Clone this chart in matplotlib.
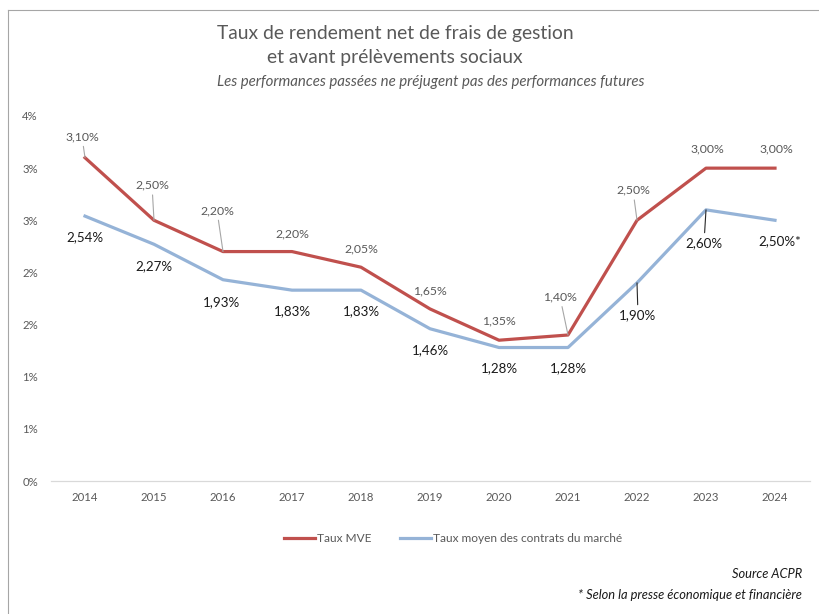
import matplotlib.pyplot as plt
from matplotlib.lines import Line2D

plt.rcParams['font.family'] = ['Lato', 'DejaVu Sans']

years = ["2014", "2015", "2016", "2017", "2018", "2019",
         "2020", "2021", "2022", "2023", "2024"]
taux_mve = [3.10, 2.50, 2.20, 2.20, 2.05, 1.65, 1.35, 1.40, 2.50, 3.00, 3.00]
taux_marche = [2.54, 2.27, 1.93, 1.83, 1.83, 1.46, 1.28, 1.28, 1.90, 2.60, 2.50]
labels_mve = ["3,10%", "2,50%", "2,20%", "2,20%", "2,05%", "1,65%",
              "1,35%", "1,40%", "2,50%", "3,00%", "3,00%"]
labels_marche = ["2,54%", "2,27%", "1,93%", "1,83%", "1,83%", "1,46%",
                 "1,28%", "1,28%", "1,90%", "2,60%", "2,50%*"]
yticks = [0, 0.5, 1.0, 1.5, 2.0, 2.5, 3.0, 3.5]
ytick_labels = ["0%", "1%", "1%", "2%", "2%", "3%", "3%", "4%"]

# label offsets in pixels (dx, dy down), and whether a leader line is drawn
off_mve = [(-3, -21), (-2, -35), (-6, -41), (0, -18), (0, -18), (0, -18),
           (0, -19), (-8, -38), (-4, -30), (1, -19), (1, -19)]
lead_mve = [1, 1, 1, 0, 0, 0, 0, 1, 1, 0, 0]
off_marche = [(0, 21), (0, 22), (-1, 22), (0, 21), (0, 21), (0, 21),
              (0, 21), (0, 21), (1, 32), (-2, 33), (5, 21)]
lead_marche = [0, 0, 0, 0, 0, 0, 0, 0, 1, 1, 0]

red = "#C0504D"
blue = "#95B3D7"
gray = "#595959"

fig = plt.figure(figsize=(8.2, 6.14), dpi=100)
ax = fig.add_axes([50.5 / 820, 1 - 481 / 614, 759 / 820, 365 / 614])

x = list(range(len(years)))
ax.plot(x, taux_mve, color=red, lw=2.3, solid_joinstyle="round", label="Taux MVE")
ax.plot(x, taux_marche, color=blue, lw=2.3, solid_joinstyle="round",
        label="Taux moyen des contrats du marché")

k = 0.72  # px -> points
for i in x:
    dx, dy = off_mve[i]
    ap = dict(arrowstyle="-", color="#A6A6A6", lw=0.8, shrinkA=1, shrinkB=0) if lead_mve[i] else None
    ax.annotate(labels_mve[i], (i, taux_mve[i]), xytext=(dx * k, -dy * k),
                textcoords="offset points", ha="center", va="center",
                fontsize=8.8, color=gray, arrowprops=ap)
    dx, dy = off_marche[i]
    ap = dict(arrowstyle="-", color="#262626", lw=0.8, shrinkA=1, shrinkB=0) if lead_marche[i] else None
    ax.annotate(labels_marche[i], (i, taux_marche[i]), xytext=(dx * k, -dy * k),
                textcoords="offset points", ha="center", va="center",
                fontsize=9.6, color="#1a1a1a", arrowprops=ap)

ax.set_xlim(-0.5, len(years) - 0.5)
ax.set_ylim(0, 3.5)
ax.set_xticks(x)
ax.set_xticklabels(years)
ax.set_yticks(yticks)
ax.set_yticklabels(ytick_labels)
ax.tick_params(axis="both", length=0, labelsize=8.2, labelcolor=gray)
ax.tick_params(axis="x", pad=8)
ax.tick_params(axis="y", pad=9)
for s in ["top", "right", "left"]:
    ax.spines[s].set_visible(False)
ax.spines["bottom"].set_color("#D9D9D9")
ax.spines["bottom"].set_linewidth(0.9)

fig.legend(loc="center", bbox_to_anchor=(453 / 820, 1 - 539 / 614), ncol=2,
           frameon=False, fontsize=8.6, labelcolor=gray, handlelength=2.6,
           handletextpad=0.15, columnspacing=2.4)

fig.text(395 / 820, 1 - 33 / 614, "Taux de rendement net de frais de gestion",
         ha="center", va="center", fontsize=13.9, color=gray)
fig.text(395 / 820, 1 - 57 / 614, "et avant prélèvements sociaux",
         ha="center", va="center", fontsize=13.9, color=gray)
fig.text(431 / 820, 1 - 82 / 614,
         "Les performances passées ne préjugent pas des performances futures",
         ha="center", va="center", fontsize=10.8, color=gray, style="italic")
fig.text(802 / 820, 1 - 574 / 614, "Source ACPR", ha="right", va="center",
         fontsize=9.3, color="#1a1a1a", style="italic")
fig.text(802 / 820, 1 - 595 / 614, "* Selon la presse économique et financière",
         ha="right", va="center", fontsize=9.3, color="#1a1a1a", style="italic")

# chart frame (left and top edges visible)
fig.add_artist(Line2D([8 / 820, 8 / 820], [0, 1 - 10 / 614], color="#A6A6A6", lw=0.8))
fig.add_artist(Line2D([8 / 820, 1], [1 - 10 / 614, 1 - 10 / 614], color="#A6A6A6", lw=0.8))

fig.savefig("out.png", dpi=100)
